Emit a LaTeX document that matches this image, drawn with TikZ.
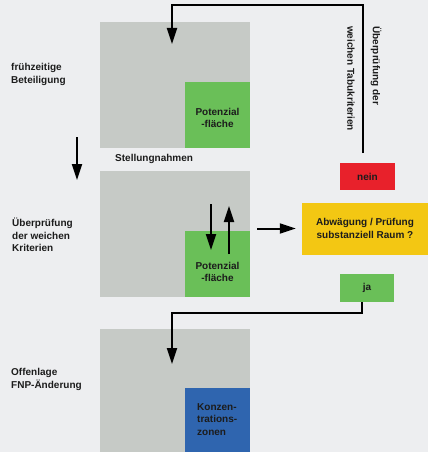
\documentclass[tikz,border=0pt]{standalone}
\usepackage{fontspec}
\setmainfont{Liberation Sans}
\usetikzlibrary{arrows.meta}
\definecolor{bgc}{HTML}{EDEEF0}
\definecolor{grayc}{HTML}{C6CAC6}
\definecolor{greenc}{HTML}{6ABF58}
\definecolor{redc}{HTML}{E8212B}
\definecolor{yellowc}{HTML}{F3C713}
\definecolor{bluec}{HTML}{2F65AF}
\definecolor{txt}{HTML}{1C1C1C}
\begin{document}
\begin{tikzpicture}[x=1pt,y=-1pt,
  every node/.style={font=\fontsize{10}{12.5}\selectfont\bfseries, text=txt, inner sep=0pt},
  graybox/.style={fill=grayc, minimum width=150pt, minimum height=126pt},
  greenbox/.style={fill=greenc, minimum width=65pt, minimum height=66pt},
  lbl/.style={align=left, anchor=west},
  vlbl/.style={rotate=-90, anchor=west},
  ctr/.style={align=center},
  arr/.style={draw=black, line width=2pt, -{Triangle[length=16pt,width=10pt]}}]
\fill[bgc] (0,0) rectangle (428,452);
\useasboundingbox (0,0) rectangle (428,452);

% boxes
\node[graybox] (g1) at (175,85) {};
\node[greenbox] (gr1) at (217.5,115) {};
\node[ctr] (t1) at (217.5,118) {Potenzial\\-fläche};

\node[graybox] (g2) at (175,234) {};
\node[greenbox] (gr2) at (217.5,264) {};
\node[ctr] (t2) at (217.5,272) {Potenzial\\-fläche};

\node[fill=grayc, minimum width=150pt, minimum height=123pt] (g3) at (175,390.5) {};
\node[fill=bluec, minimum width=65pt, minimum height=64pt] (bl) at (217.5,420) {};
\node[lbl] (t3) at (197,419.5) {Konzen-\\trations-\\zonen};

\node[fill=redc, minimum width=55pt, minimum height=27pt] (nein) at (367.5,176.5) {nein};
\node[fill=greenc, minimum width=54pt, minimum height=28pt] (ja) at (367,288) {ja};
\node[fill=yellowc, minimum width=126pt, minimum height=52pt, align=center] (abw) at (365,228.5) {Abwägung / Prüfung\\substanziell Raum ?};

% labels
\node[lbl] (l1) at (11,74.5) {frühzeitige\\Beteiligung};
\node[lbl] (l2) at (12,235) {Überprüfung\\der weichen\\Kriterien};
\node[lbl] (l3) at (11,379.5) {Offenlage\\FNP-Änderung};
\node[lbl] (st) at (115,159) {Stellungnahmen};
\node[vlbl] (vt1) at (376,26) {Überprüfung der};
\node[vlbl] (vt2) at (351,26) {weichen Tabukriterien};

% connectors
\coordinate (c1) at (363,153);
\coordinate (c2) at (363,5);
\coordinate (c3) at (172,5);
\coordinate (c4) at (172,44);
\draw[arr] (c1) -- (c2) -- (c3) -- (c4);

\coordinate (d1) at (77,137);
\coordinate (d2) at (77,180);
\draw[arr] (d1) -- (d2);

\coordinate (m1) at (211,204);
\coordinate (m2) at (211,250);
\coordinate (m3) at (229,254);
\coordinate (m4) at (229,206);
\draw[arr] (m1) -- (m2);
\draw[arr] (m3) -- (m4);

\draw[arr, shorten <=7pt, shorten >=6pt] (g2.east |- abw.west) -- (abw.west);

\coordinate (b1) at (362,302);
\coordinate (b2) at (362,313);
\coordinate (b3) at (172,313);
\coordinate (b4) at (172,364);
\draw[arr] (b1) -- (b2) -- (b3) -- (b4);
\end{tikzpicture}
\end{document}
